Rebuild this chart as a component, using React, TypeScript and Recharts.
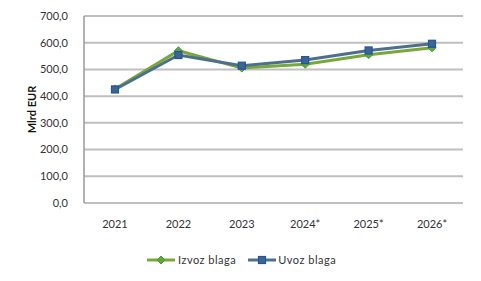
import React from 'react';
import { LineChart, Line, XAxis, YAxis, CartesianGrid, Legend } from 'recharts';

const years = ['2021', '2022', '2023', '2024*', '2025*', '2026*'];
const izvozBlaga = [427, 570, 505, 519, 555, 581];
const uvozBlaga = [425, 554, 514, 535, 571, 596];
const yTicks = [0, 100, 200, 300, 400, 500, 600, 700];

const data = years.map((year, i) => ({
  year,
  izvoz: izvozBlaga[i],
  uvoz: uvozBlaga[i],
}));

const FONT = 'Lato, "Open Sans", sans-serif';
const GREEN = '#77a83a';
const BLUE = '#4d6f8c';

const fmt = (v: number) => v.toFixed(1).replace('.', ',');

const Diamond = (props: any) => {
  const { cx, cy } = props;
  if (cx == null || cy == null) return null;
  return (
    <path
      d={`M${cx},${cy - 4} L${cx + 4},${cy} L${cx},${cy + 4} L${cx - 4},${cy} Z`}
      fill="#5ea83a"
      stroke="#4e9a2e"
      strokeWidth={1}
    />
  );
};

const Square = (props: any) => {
  const { cx, cy } = props;
  if (cx == null || cy == null) return null;
  return (
    <rect x={cx - 3.5} y={cy - 3.5} width={7} height={7} fill="#3d6688" stroke="#1f54a8" strokeWidth={1.2} />
  );
};

const LegendContent = () => (
  <div style={{ display: 'flex', justifyContent: 'flex-start', fontFamily: FONT, fontSize: 11, color: '#333', letterSpacing: 0.5 }}>
    <svg width={28} height={12} style={{ marginLeft: 147 }}>
      <line x1={0} y1={6} x2={28} y2={6} stroke={GREEN} strokeWidth={3} />
      <Diamond cx={14} cy={6} />
    </svg>
    <span style={{ marginLeft: 3, lineHeight: '12px' }}>Izvoz blaga</span>
    <svg width={28} height={12} style={{ marginLeft: 12 }}>
      <line x1={0} y1={6} x2={28} y2={6} stroke={BLUE} strokeWidth={3} />
      <Square cx={14} cy={6} />
    </svg>
    <span style={{ marginLeft: 2, lineHeight: '12px' }}>Uvoz blaga</span>
  </div>
);

export default function App() {
  return (
    <div style={{ position: 'absolute', left: 0, top: 0, background: '#fff' }}>
      <LineChart
        width={481}
        height={281}
        data={data}
        margin={{ top: 16, right: 18, left: 0, bottom: 36 }}
      >
        <CartesianGrid vertical={false} stroke="#bfbfbf" strokeWidth={2} />
        <XAxis
          dataKey="year"
          axisLine={false}
          tickLine={false}
          tickMargin={11}
          height={30}
          padding={{ left: 31, right: 31 }}
          tick={{ fontFamily: FONT, fontSize: 11, fill: '#333' }}
        />
        <YAxis
          width={84}
          domain={[0, 700]}
          ticks={yTicks}
          tickFormatter={fmt}
          axisLine={{ stroke: '#999', strokeWidth: 1.5 }}
          tickLine={false}
          tickMargin={10}
          tick={{ fontFamily: FONT, fontSize: 11, fill: '#333' }}
          label={{
            value: 'Mlrd EUR',
            angle: -90,
            position: 'insideLeft',
            offset: 32,
            style: { fontFamily: FONT, fontSize: 11, fontWeight: 700, fill: '#111', textAnchor: 'middle' },
          }}
        />
        <Line
          dataKey="izvoz"
          name="Izvoz blaga"
          stroke={GREEN}
          strokeWidth={3}
          dot={<Diamond />}
          activeDot={false}
          isAnimationActive={false}
        />
        <Line
          dataKey="uvoz"
          name="Uvoz blaga"
          stroke={BLUE}
          strokeWidth={3}
          dot={<Square />}
          activeDot={false}
          isAnimationActive={false}
        />
        <Legend
          content={<LegendContent />}
          wrapperStyle={{ top: 254, left: 0, width: 481 }}
        />
      </LineChart>
    </div>
  );
}
